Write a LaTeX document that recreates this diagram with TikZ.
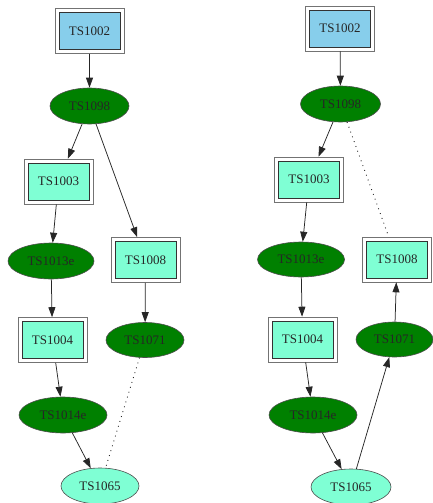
\documentclass[tikz,border=0pt]{standalone}
\usepackage{fontspec}
\setmainfont{Liberation Serif}
\usetikzlibrary{shapes.geometric,arrows.meta}
\definecolor{skyb}{HTML}{87CEEB}
\definecolor{aqua}{HTML}{7FFFD4}
\definecolor{gvgreen}{HTML}{008000}
\tikzset{
  lbl/.style={font=\fontsize{13pt}{15pt}\selectfont, text=black!85},
  dbox/.style={lbl, rectangle, minimum width=69pt, minimum height=45pt, inner sep=0pt,
    draw=black!55, line width=0.6pt,
    path picture={\draw[fill=#1, draw=black!80, line width=0.9pt]
      ([shift={(4pt,4pt)}]path picture bounding box.south west) rectangle
      ([shift={(-4pt,-4pt)}]path picture bounding box.north east);}},
  ell/.style={lbl, ellipse, inner sep=0pt, minimum height=36pt, draw=black!70, line width=0.6pt, fill=#1},
  arr/.style={draw=black!85, line width=0.75pt, -{Triangle[length=10pt,width=7pt]}},
  dot/.style={draw=black!85, line width=0.9pt, dash pattern=on 0.9pt off 4.2pt}
}
\begin{document}
\begin{tikzpicture}[x=1pt,y=-1pt]
\useasboundingbox (0,0) rectangle (433,503);
% left graph
\node[dbox=skyb] (a1) at (89.5,31) {TS1002};
\node[ell=gvgreen, minimum width=79pt] (a2) at (89.5,106) {TS1098};
\node[dbox=aqua] (a3) at (58.5,181.5) {TS1003};
\node[ell=gvgreen, minimum width=86pt] (a4) at (51,261) {TS1013e};
\node[dbox=aqua] (a5) at (145.5,260) {TS1008};
\node[dbox=aqua] (a6) at (52.5,340) {TS1004};
\node[ell=gvgreen, minimum width=78pt, minimum height=35pt] (a7) at (145,340) {TS1071};
\node[ell=gvgreen, minimum width=88pt] (a8) at (63,415) {TS1014e};
\node[ell=aqua, minimum width=78pt] (a9) at (100,486) {TS1065};
\draw[arr] (a1) -- (a2);
\draw[arr] (a2) -- (a3);
\draw[arr] (a2) -- (a5);
\draw[arr] (a3) -- (a4);
\draw[arr] (a4) -- (a6);
\draw[arr] (a5) -- (a7);
\draw[arr] (a6) -- (a8);
\draw[arr] (a8) -- (a9);
\draw[dot] (a7) -- (a9);
% right graph
\node[dbox=skyb] (b1) at (340,28.5) {TS1002};
\node[ell=gvgreen, minimum width=80pt] (b2) at (340.5,104) {TS1098};
\node[dbox=aqua] (b3) at (309,179.5) {TS1003};
\node[ell=gvgreen, minimum width=87pt, minimum height=35pt] (b4) at (301,259.5) {TS1013e};
\node[dbox=aqua] (b5) at (397,259.5) {TS1008};
\node[dbox=aqua] (b6) at (302.5,339.5) {TS1004};
\node[ell=gvgreen, minimum width=77pt, minimum height=35pt] (b7) at (394.5,339.5) {TS1071};
\node[ell=gvgreen, minimum width=88pt] (b8) at (313,415) {TS1014e};
\node[ell=aqua, minimum width=80pt] (b9) at (351,487) {TS1065};
\draw[arr] (b1) -- (b2);
\draw[arr] (b2) -- (b3);
\draw[dot] (b2) -- (b5);
\draw[arr] (b3) -- (b4);
\draw[arr] (b4) -- (b6);
\draw[arr] (b6) -- (b8);
\draw[arr] (b8) -- (b9);
\draw[arr] (b9) -- (b7);
\draw[arr] (b7) -- (b5);
\end{tikzpicture}
\end{document}
